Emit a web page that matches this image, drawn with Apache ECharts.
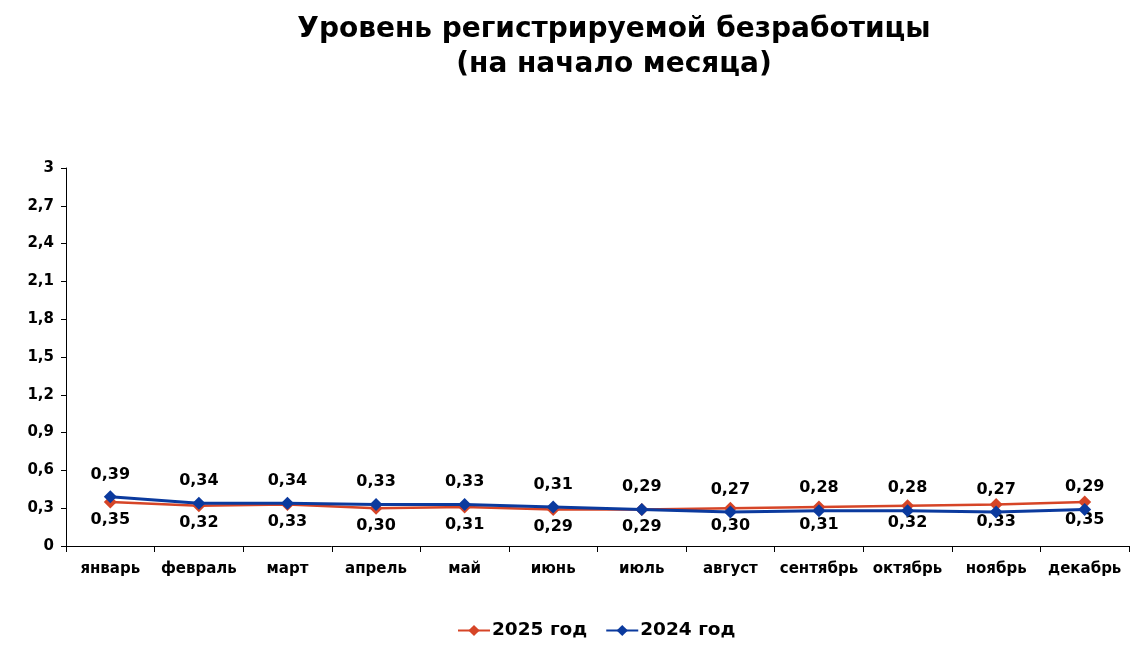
<!DOCTYPE html>
<html><head><meta charset="utf-8">
<script src="https://cdn.jsdelivr.net/npm/echarts@6/dist/echarts.min.js"></script>
<style>html,body{margin:0;padding:0;background:#fff}#c{width:1146px;height:666px}</style>
</head><body><div id="c"></div>
<script>
const titleLines = ['Уровень регистрируемой безработицы', '(на начало месяца)'];
const categories = ['январь','февраль','март','апрель','май','июнь','июль','август','сентябрь','октябрь','ноябрь','декабрь'];
const series2025 = [0.35,0.32,0.33,0.30,0.31,0.29,0.29,0.30,0.31,0.32,0.33,0.35];
const series2024 = [0.39,0.34,0.34,0.33,0.33,0.31,0.29,0.27,0.28,0.28,0.27,0.29];
const seriesNames = ['2025 год','2024 год'];

const fmt = v => String(+(+v).toFixed(2)).replace('.', ',');
const fmt2 = v => (+v).toFixed(2).replace('.', ',');
const FONT = 'DejaVu Sans';
const chart = echarts.init(document.getElementById('c'));
chart.setOption({
  animation: false,
  title: {
    text: titleLines.join('\n'),
    left: 609, top: 7, textAlign: 'center',
    textStyle: {fontFamily: FONT, fontWeight: 'bold', fontSize: 28, lineHeight: 35, color: '#000'}
  },
  legend: {
    bottom: 21, left: 452, itemGap: 18, itemWidth: 32, itemHeight: 14,
    textStyle: {fontFamily: FONT, fontWeight: 'bold', fontSize: 18.5, color: '#000', padding: [0, 0, 0, -3]},
    data: seriesNames
  },
  grid: {left: 66, right: 17, top: 168, bottom: 120, containLabel: false},
  xAxis: {
    type: 'category', data: categories, boundaryGap: true,
    axisLine: {lineStyle: {color: '#000', width: 1}},
    axisTick: {show: true, length: 6, lineStyle: {color: '#000'}},
    axisLabel: {interval: 0, fontFamily: FONT, fontWeight: 'bold', fontSize: 15, color: '#000', margin: 16}
  },
  yAxis: {
    type: 'value', min: 0, max: 3, interval: 0.3,
    axisLine: {show: true, lineStyle: {color: '#000', width: 1}},
    axisTick: {show: true, length: 5, lineStyle: {color: '#000'}},
    splitLine: {show: false},
    axisLabel: {fontFamily: FONT, fontWeight: 'bold', fontSize: 15, color: '#000', margin: 12, formatter: fmt}
  },
  series: [
    {
      name: seriesNames[0], type: 'line', data: series2025,
      symbol: 'diamond', symbolSize: 13,
      itemStyle: {color: '#d64527'},
      lineStyle: {color: '#d64527', width: 2.5},
      label: {show: true, position: 'bottom', distance: 3, formatter: p => fmt2(p.value),
        fontFamily: FONT, fontWeight: 'bold', fontSize: 16, color: '#000'},
      z: 2
    },
    {
      name: seriesNames[1], type: 'line', data: series2024,
      symbol: 'diamond', symbolSize: 13,
      itemStyle: {color: '#0b3a9e'},
      lineStyle: {color: '#0b3a9e', width: 3},
      label: {show: true, position: 'top', distance: 8, formatter: p => fmt2(p.value),
        fontFamily: FONT, fontWeight: 'bold', fontSize: 16, color: '#000'},
      z: 3
    }
  ]
});
</script></body></html>
